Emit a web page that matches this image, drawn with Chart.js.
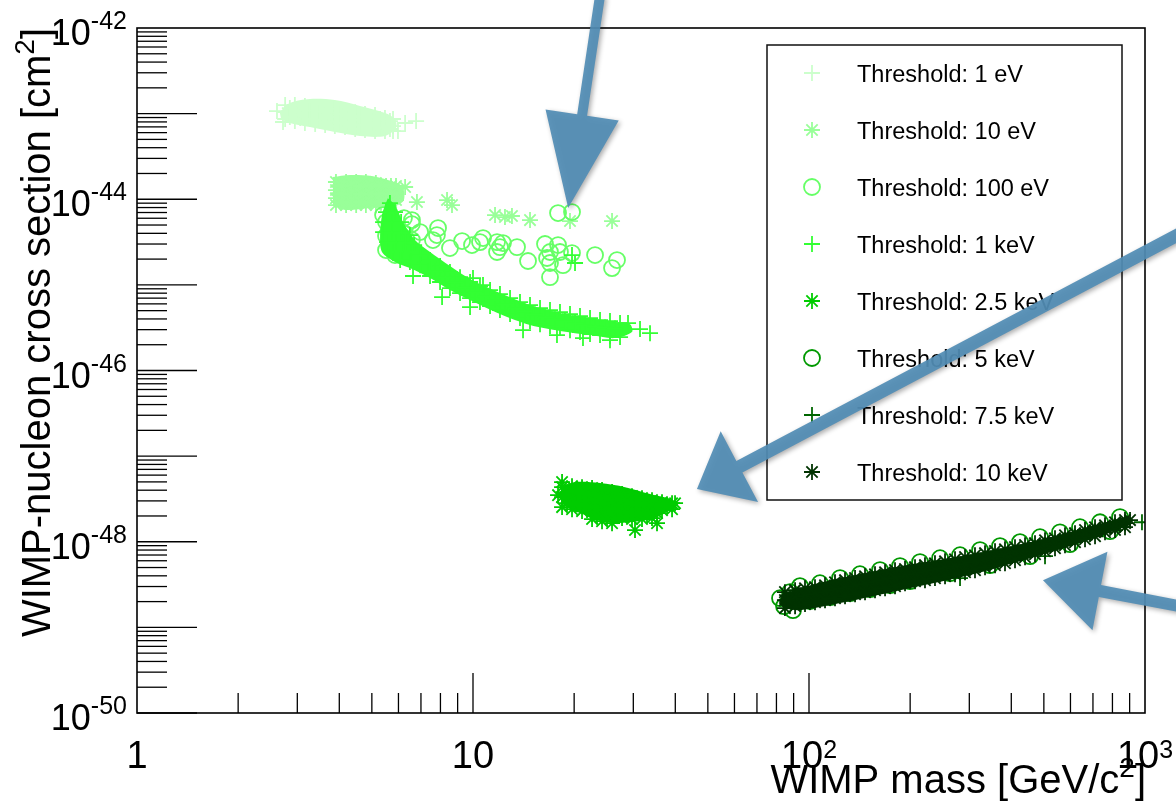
<!DOCTYPE html>
<html>
<head>
<meta charset="utf-8">
<title>WIMP-nucleon cross section vs WIMP mass</title>
<script src="https://cdn.jsdelivr.net/npm/chart.js@4.4.1/dist/chart.umd.min.js"></script>
<style>
  html, body { margin: 0; padding: 0; background: #fff; }
  canvas { display: block; }
</style>
</head>
<body>
<canvas id="chart" width="1176" height="805"></canvas>
<script>
// Threshold series, mass in GeV/c^2 and cross section in cm^2
const thresholds = [
    'Threshold: 1 eV', 'Threshold: 10 eV', 'Threshold: 100 eV', 'Threshold: 1 keV',
    'Threshold: 2.5 keV', 'Threshold: 5 keV', 'Threshold: 7.5 keV', 'Threshold: 10 keV'
];

const mass1eV = [
    2.76, 2.76, 2.76, 2.95, 2.95, 2.95, 3.16, 3.16, 3.16, 3.39, 3.39, 3.39,
    3.63, 3.63, 3.63, 3.88, 3.88, 3.88, 4.16, 4.16, 4.16, 4.46, 4.46, 4.46,
    4.77, 4.77, 4.77, 5.11, 5.11, 5.11, 5.47, 5.47, 5.47, 5.78, 5.78, 5.78,
    2.85, 2.85, 3.06, 3.06, 3.27, 3.27, 3.50, 3.50, 3.75, 3.75, 4.02, 4.02,
    4.31, 4.31, 4.61, 4.61, 4.94, 4.94, 5.29, 5.29, 5.66, 5.66,
    2.61, 2.72, 6.28, 6.77, 5.98
];
const xsec1eV = [
    1.26e-43, 1.04e-43, 8.65e-44, 1.26e-43, 1.02e-43, 8.19e-44, 1.23e-43, 9.89e-44, 7.77e-44, 1.19e-43, 9.63e-44, 7.56e-44,
    1.16e-43, 9.38e-44, 7.36e-44, 1.13e-43, 9.13e-44, 7.16e-44, 1.07e-43, 8.65e-44, 6.97e-44, 1.04e-43, 8.42e-44, 6.61e-44,
    9.89e-44, 7.98e-44, 6.43e-44, 9.63e-44, 7.77e-44, 6.26e-44, 8.88e-44, 7.36e-44, 6.26e-44, 8.65e-44, 7.16e-44, 6.26e-44,
    1.16e-43, 9.13e-44, 1.10e-43, 8.88e-44, 1.07e-43, 8.65e-44, 1.04e-43, 8.42e-44, 1.02e-43, 8.19e-44, 9.89e-44, 7.77e-44,
    9.38e-44, 7.56e-44, 9.13e-44, 7.36e-44, 8.88e-44, 6.97e-44, 8.65e-44, 6.79e-44, 8.19e-44, 6.61e-44,
    1.07e-43, 7.98e-44, 7.77e-44, 8.19e-44, 6.26e-44
];

const mass10eV = [
    3.91, 3.91, 3.91, 3.91, 4.19, 4.19, 4.19, 4.19, 4.49, 4.49, 4.49, 4.49,
    4.80, 4.80, 4.80, 4.80, 5.14, 5.14, 5.14, 5.14, 5.51, 5.51, 5.51, 5.90, 5.90, 5.90,
    4.05, 4.05, 4.05, 4.34, 4.34, 4.34, 4.64, 4.64, 4.64, 4.97, 4.97, 4.97,
    5.32, 5.32, 5.32, 5.70, 5.70, 5.70,
    6.28, 6.81, 8.37, 8.66, 11.63, 12.45, 13.06, 14.78, 19.44, 25.93
];
const xsec10eV = [
    1.59e-44, 1.28e-44, 1.03e-44, 8.55e-45, 1.59e-44, 1.28e-44, 1.03e-44, 8.55e-45, 1.59e-44, 1.28e-44, 1.03e-44, 8.55e-45,
    1.59e-44, 1.28e-44, 1.03e-44, 8.55e-45, 1.55e-44, 1.28e-44, 1.03e-44, 8.55e-45, 1.43e-44, 1.18e-44, 9.79e-45, 1.43e-44, 1.18e-44, 9.79e-45,
    1.43e-44, 1.15e-44, 9.27e-45, 1.43e-44, 1.15e-44, 9.27e-45, 1.43e-44, 1.15e-44, 9.27e-45, 1.43e-44, 1.15e-44, 9.27e-45,
    1.43e-44, 1.15e-44, 9.27e-45, 1.43e-44, 1.15e-44, 9.27e-45,
    1.39e-44, 9.27e-45, 9.79e-45, 8.55e-45, 6.54e-45, 6.20e-45, 6.37e-45, 5.71e-45, 5.56e-45, 5.56e-45
];

const mass100eV = [
    5.40, 5.51, 5.51, 5.51, 5.86, 5.86, 5.86, 6.23, 6.23, 6.23, 6.58, 6.58, 6.58, 6.96,
    7.87, 7.81, 7.60, 8.54, 9.28, 9.93, 10.49, 10.71, 11.79, 12.03, 11.79, 12.28, 13.52, 14.58,
    16.38, 16.61, 16.95, 17.91, 18.15, 17.91, 19.71, 16.95, 16.95, 18.53, 19.71, 23.08, 26.83, 25.93
];
const xsec100eV = [
    6.54e-45, 5.42e-45, 3.72e-45, 2.55e-45, 4.61e-45, 3.08e-45, 2.23e-45, 6.03e-45, 4.03e-45, 2.69e-45, 5.13e-45, 3.34e-45, 5.71e-45, 4.14e-45,
    4.61e-45, 3.82e-45, 3.34e-45, 2.69e-45, 3.25e-45, 2.92e-45, 3.16e-45, 3.52e-45, 3.16e-45, 2.76e-45, 2.42e-45, 3.08e-45, 2.76e-45, 1.90e-45,
    3.00e-45, 2.06e-45, 2.42e-45, 2.92e-45, 2.42e-45, 6.90e-45, 7.09e-45, 1.80e-45, 1.23e-45, 1.70e-45, 2.35e-45, 2.23e-45, 1.95e-45, 1.57e-45
];

const mass1keV = [
    5.66, 5.51, 5.86, 5.40, 5.74, 6.11, 5.40, 5.74, 6.11, 6.49, 5.55, 5.90, 6.28, 6.68,
    5.78, 6.15, 6.54, 6.96, 6.07, 6.49, 6.96, 7.35,
    7.45, 7.45, 7.98, 7.98, 8.54, 8.54, 9.15, 9.15, 9.80, 9.80, 10.49, 10.49, 11.24, 11.24,
    12.03, 12.03, 12.89, 12.89, 13.80, 13.80, 14.78, 14.78, 15.83, 15.83, 16.95, 16.95,
    18.15, 18.15, 19.44, 19.44, 20.82, 20.82, 22.30, 22.30, 23.88, 23.88, 25.57, 25.57, 27.39, 27.39,
    7.71, 8.25, 8.84, 9.47, 10.14, 10.86, 11.63, 12.45, 13.34, 14.28, 15.29, 16.38,
    17.54, 18.78, 20.12, 21.54, 23.08, 24.71, 26.46,
    6.63, 8.09, 10.0, 10.71, 9.80, 14.09, 17.78, 21.25, 25.57, 28.93, 31.41, 33.64, 19.71, 20.12
];
const xsec1keV = [
    9.03e-45, 7.09e-45, 7.09e-45, 5.42e-45, 5.42e-45, 5.42e-45, 4.14e-45, 4.14e-45, 4.14e-45, 3.82e-45, 3.16e-45, 3.16e-45, 3.16e-45, 2.92e-45,
    2.42e-45, 2.42e-45, 2.42e-45, 2.23e-45, 1.95e-45, 1.85e-45, 1.70e-45, 1.85e-45,
    1.95e-45, 1.27e-45, 1.66e-45, 1.08e-45, 1.41e-45, 9.18e-46, 1.23e-45, 8.02e-46, 1.08e-45, 7.01e-46, 9.68e-46, 6.30e-46, 8.70e-46, 5.65e-46,
    7.81e-46, 5.08e-46, 7.01e-46, 4.56e-46, 6.30e-46, 4.09e-46, 5.81e-46, 3.78e-46, 5.36e-46, 3.48e-46, 5.08e-46, 3.30e-46,
    4.81e-46, 3.13e-46, 4.56e-46, 2.96e-46, 4.32e-46, 2.81e-46, 4.09e-46, 2.66e-46, 3.88e-46, 2.59e-46, 3.78e-46, 2.52e-46, 3.58e-46, 2.46e-46,
    1.45e-45, 1.23e-45, 1.07e-45, 9.30e-46, 8.24e-46, 7.40e-46, 6.64e-46, 5.97e-46, 5.36e-46, 4.90e-46, 4.50e-46, 4.20e-46,
    3.98e-46, 3.78e-46, 3.58e-46, 3.39e-46, 3.25e-46, 3.17e-46, 3.09e-46,
    1.27e-45, 7.20e-46, 1.20e-45, 9.95e-46, 5.50e-46, 2.96e-46, 2.59e-46, 2.39e-46, 2.26e-46, 3.58e-46, 3.05e-46, 2.73e-46, 2.23e-45, 1.80e-45
];

const mass2p5keV = [
    18.41, 18.41, 18.41, 19.71, 19.71, 19.71, 21.11, 21.11, 21.11,
    22.61, 22.61, 22.61, 22.61, 24.21, 24.21, 24.21, 24.21, 25.93, 25.93, 25.93, 25.93,
    27.77, 27.77, 27.77, 29.73, 29.73, 29.73, 31.84, 31.84, 31.84, 34.10, 34.10, 34.10,
    36.52, 36.52, 39.12, 39.12,
    19.05, 19.05, 20.40, 20.40, 21.84, 21.84, 23.39, 23.39, 23.39, 25.05, 25.05, 25.05,
    26.83, 26.83, 28.73, 28.73, 30.77, 30.77, 32.95, 32.95, 35.29, 35.29, 37.80,
    18.41, 17.91, 39.93, 30.35, 35.29
];
const xsec2p5keV = [
    4.34e-48, 3.32e-48, 2.54e-48, 4.46e-48, 3.32e-48, 2.40e-48, 4.34e-48, 3.15e-48, 2.28e-48,
    4.23e-48, 3.06e-48, 2.22e-48, 1.84e-48, 4.01e-48, 2.90e-48, 2.10e-48, 1.74e-48, 3.80e-48, 2.75e-48, 1.99e-48, 1.65e-48,
    3.60e-48, 2.61e-48, 1.89e-48, 3.41e-48, 2.47e-48, 1.84e-48, 3.23e-48, 2.40e-48, 1.84e-48, 3.06e-48, 2.34e-48, 1.89e-48,
    2.90e-48, 2.34e-48, 2.82e-48, 2.40e-48,
    3.80e-48, 2.82e-48, 3.80e-48, 2.75e-48, 3.60e-48, 2.61e-48, 3.50e-48, 2.54e-48, 1.99e-48, 3.32e-48, 2.40e-48, 1.89e-48,
    3.15e-48, 2.28e-48, 2.98e-48, 2.16e-48, 2.90e-48, 2.16e-48, 2.75e-48, 2.10e-48, 2.68e-48, 2.16e-48, 2.61e-48,
    4.97e-48, 3.50e-48, 2.82e-48, 1.37e-48, 1.65e-48
];

const mass5keV = [
    82.0, 84.3, 87.8, 89.6, 94.0,
    94.0, 107.8, 123.7, 141.8, 162.7, 186.6, 214.0, 245.5, 281.5, 322.9, 370.3, 424.6, 487.0, 558.5, 640.5, 734.8, 842.6,
    100.7, 115.5, 132.4, 151.9, 174.2, 199.8, 262.8, 345.7, 454.8, 598.0, 786.8
];
const xsec5keV = [
    2.19e-49, 1.77e-49, 2.58e-49, 1.59e-49, 2.08e-49,
    3.03e-49, 3.28e-49, 3.76e-49, 4.18e-49, 4.66e-49, 5.19e-49, 5.78e-49, 6.43e-49, 6.97e-49, 7.98e-49, 8.88e-49, 9.89e-49, 1.13e-48, 1.29e-48, 1.48e-48, 1.69e-48, 1.94e-48,
    2.03e-49, 2.25e-49, 2.51e-49, 2.79e-49, 3.11e-49, 3.46e-49, 4.30e-49, 5.33e-49, 6.79e-49, 9.38e-49, 1.33e-48
];

const mass7p5keV = [
    979.5, 87.8, 107.8, 132.4, 162.7, 199.8, 245.5, 301.3, 370.3, 454.8, 558.5, 686.0, 842.6, 504.0, 281.5
];
const xsec7p5keV = [
    1.69e-48, 2.14e-49, 2.44e-49, 2.95e-49, 3.46e-49, 4.07e-49, 4.66e-49, 5.54e-49, 6.61e-49, 7.98e-49, 1.00e-48, 1.26e-48, 1.58e-48, 6.79e-49, 3.76e-49
];

const mass10keV = [
    84.8, 84.8, 84.8, 90.9, 90.9, 90.9, 97.3, 97.3, 97.3, 104.2, 104.2, 104.2,
    111.6, 111.6, 111.6, 119.5, 119.5, 119.5, 128.0, 128.0, 128.0, 137.1, 137.1, 137.1,
    146.8, 146.8, 146.8, 157.2, 157.2, 157.2, 168.4, 168.4, 168.4, 180.3, 180.3, 180.3,
    193.1, 193.1, 193.1, 206.8, 206.8, 206.8, 221.4, 221.4, 221.4, 237.1, 237.1, 237.1,
    254.0, 254.0, 254.0, 272.0, 272.0, 272.0, 291.3, 291.3, 291.3, 311.9, 311.9, 311.9,
    334.1, 334.1, 334.1, 357.8, 357.8, 357.8, 383.1, 383.1, 383.1, 410.3, 410.3, 410.3,
    439.5, 439.5, 439.5, 470.6, 470.6, 470.6, 504.0, 504.0, 504.0, 539.7, 539.7, 539.7,
    578.0, 578.0, 578.0, 619.0, 619.0, 619.0, 662.9, 662.9, 662.9, 710.0, 710.0, 710.0,
    760.3, 760.3, 760.3, 814.2, 814.2, 814.2, 871.9, 871.9, 871.9,
    902.5, 86.5
];
const xsec10keV = [
    2.58e-49, 2.08e-49, 1.68e-49, 2.72e-49, 2.19e-49, 1.77e-49, 2.87e-49, 2.31e-49, 1.87e-49, 2.95e-49, 2.44e-49, 1.97e-49,
    3.11e-49, 2.58e-49, 2.08e-49, 3.37e-49, 2.72e-49, 2.19e-49, 3.56e-49, 2.87e-49, 2.31e-49, 3.76e-49, 3.03e-49, 2.44e-49,
    3.96e-49, 3.20e-49, 2.58e-49, 4.18e-49, 3.37e-49, 2.72e-49, 4.41e-49, 3.56e-49, 2.87e-49, 4.66e-49, 3.76e-49, 3.03e-49,
    4.79e-49, 3.96e-49, 3.28e-49, 5.05e-49, 4.18e-49, 3.46e-49, 5.33e-49, 4.41e-49, 3.56e-49, 5.62e-49, 4.66e-49, 3.76e-49,
    5.93e-49, 4.92e-49, 3.96e-49, 6.26e-49, 5.19e-49, 4.18e-49, 6.61e-49, 5.47e-49, 4.41e-49, 6.97e-49, 5.78e-49, 4.66e-49,
    7.36e-49, 6.10e-49, 5.05e-49, 7.77e-49, 6.43e-49, 5.33e-49, 8.19e-49, 6.79e-49, 5.62e-49, 8.65e-49, 7.36e-49, 6.10e-49,
    9.13e-49, 7.77e-49, 6.61e-49, 9.63e-49, 8.42e-49, 7.16e-49, 1.04e-48, 9.13e-49, 7.77e-49, 1.10e-48, 9.63e-49, 8.42e-49,
    1.19e-48, 1.04e-48, 9.13e-49, 1.26e-48, 1.13e-48, 9.89e-49, 1.37e-48, 1.23e-48, 1.07e-48, 1.48e-48, 1.33e-48, 1.16e-48,
    1.56e-48, 1.44e-48, 1.29e-48, 1.69e-48, 1.52e-48, 1.37e-48, 1.79e-48, 1.65e-48, 1.48e-48,
    1.79e-48, 2.08e-49
];

// Outlines of the regions where the scan points pile up into solid colour
const coreMass1eV = [2.66, 2.85, 3.27, 3.88, 4.61, 5.47, 5.86, 5.90, 5.47, 4.61, 3.88, 3.27, 2.85, 2.68];
const coreXsec1eV = [1.04e-43, 1.33e-43, 1.48e-43, 1.44e-43, 1.23e-43, 1.02e-43, 8.65e-44, 6.79e-44, 5.47e-44, 5.47e-44, 6.10e-44, 6.97e-44, 7.77e-44, 8.88e-44];

const coreMass10eV = [3.83, 4.31, 5.00, 5.58, 6.15, 6.23, 5.86, 4.94, 4.16, 3.83];
const coreXsec10eV = [1.82e-44, 1.92e-44, 1.87e-44, 1.68e-44, 1.43e-44, 9.79e-45, 8.33e-45, 7.89e-45, 7.50e-45, 8.55e-45];

const coreMass1keV = [
    5.58, 5.86, 6.19, 6.72, 7.45, 8.54, 9.80, 12.03, 14.78, 18.15, 22.30, 26.46, 29.33,
    29.73, 26.46, 22.30, 18.15, 14.78, 12.03, 9.80, 8.54, 7.45, 6.49, 5.86, 5.36, 5.29, 5.36, 5.47
];
const coreXsec1keV = [
    1.03e-44, 8.55e-45, 5.42e-45, 3.34e-45, 2.42e-45, 1.66e-45, 1.17e-45, 8.02e-46, 5.81e-46, 4.68e-46, 4.09e-46, 3.68e-46, 3.48e-46,
    2.81e-46, 2.39e-46, 2.59e-46, 2.89e-46, 3.39e-46, 4.56e-46, 6.64e-46, 8.70e-46, 1.20e-45, 1.57e-45, 1.85e-45, 2.42e-45, 3.82e-45, 6.54e-45, 8.55e-45
];

const coreMass2p5keV = [18.41, 20.12, 23.88, 28.35, 33.64, 39.12, 39.38, 34.81, 29.33, 24.71, 21.54, 18.78, 18.03];
const coreXsec2p5keV = [4.34e-48, 4.97e-48, 4.84e-48, 4.34e-48, 3.60e-48, 3.06e-48, 2.54e-48, 1.89e-48, 1.69e-48, 1.69e-48, 2.05e-48, 2.61e-48, 3.41e-48];

const coreMass10keV = [83.7, 94.0, 123.7, 186.6, 307.7, 454.8, 610.6, 786.8, 890.2, 902.5, 786.8, 610.6, 454.8, 307.7, 186.6, 123.7, 94.0, 84.8, 81.4];
const coreXsec10keV = [2.44e-49, 2.87e-49, 3.76e-49, 5.19e-49, 7.16e-49, 9.89e-49, 1.33e-48, 1.74e-48, 1.94e-48, 1.61e-48, 1.29e-48, 9.13e-49, 6.43e-49, 4.18e-49, 2.72e-49, 1.92e-49, 1.59e-49, 1.68e-49, 2.02e-49];

// Axis labels: [base, exponent]
const xTickValues = [1, 10, 100, 1000];
const xTickLabels = [['1', ''], ['10', ''], ['10', '2'], ['10', '3']];
const yTickValues = [1e-50, 1e-48, 1e-46, 1e-44, 1e-42];
const yTickLabels = [['10', '-50'], ['10', '-48'], ['10', '-46'], ['10', '-44'], ['10', '-42']];

const FONT = "'Liberation Sans', Arial, Helvetica, sans-serif";

const seriesMass = [mass1eV, mass10eV, mass100eV, mass1keV, mass2p5keV, mass5keV, mass7p5keV, mass10keV];
const seriesXsec = [xsec1eV, xsec10eV, xsec100eV, xsec1keV, xsec2p5keV, xsec5keV, xsec7p5keV, xsec10keV];
const colors = ['#ccffcc', '#99ff99', '#66ff66', '#33ff33', '#00cc00', '#009900', '#006600', '#003300'];
const markers = ['cross', 'star', 'circle', 'cross', 'star', 'circle', 'cross', 'star'];

// series index -> [mass, xsec] outline of its dense core
const cores = [
    [0, coreMass1eV, coreXsec1eV],
    [1, coreMass10eV, coreXsec10eV],
    [3, coreMass1keV, coreXsec1keV],
    [4, coreMass2p5keV, coreXsec2p5keV],
    [7, coreMass10keV, coreXsec10keV]
];

const toPoints = (ms, xs) => ms.map((m, j) => ({ x: m, y: xs[j] }));

const datasets = thresholds.map((label, i) => ({
    label: label,
    data: toPoints(seriesMass[i], seriesXsec[i]),
    pointStyle: markers[i],
    pointRadius: 8,
    pointBorderWidth: 1.8,
    borderColor: colors[i],
    backgroundColor: 'rgba(0,0,0,0)',
    pointBackgroundColor: 'rgba(0,0,0,0)',
    showLine: false,
    order: thresholds.length - 1 - i   // later thresholds drawn on top
}));

cores.forEach(([i, ms, xs]) => {
    datasets.push({
        label: thresholds[i] + ' core',
        data: toPoints(ms, xs),
        showLine: true,
        fill: 'shape',
        borderWidth: 0,
        borderColor: 'rgba(0,0,0,0)',
        backgroundColor: colors[i],
        pointRadius: 0,
        tension: 0.3,
        order: thresholds.length - 1 - i + 0.5
    });
});

// Text helper: base with a raised exponent
function powerText(ctx, base, exp, x, baseline, align, size, supSize, rise) {
    ctx.font = size + 'px ' + FONT;
    const wb = ctx.measureText(base).width;
    ctx.font = supSize + 'px ' + FONT;
    const we = exp ? ctx.measureText(exp).width : 0;
    const total = wb + we;
    let left = x;
    if (align === 'right') left = x - total;
    if (align === 'center') left = x - total / 2;
    ctx.textAlign = 'left';
    ctx.textBaseline = 'alphabetic';
    ctx.font = size + 'px ' + FONT;
    ctx.fillText(base, left, baseline);
    if (exp) {
        ctx.font = supSize + 'px ' + FONT;
        ctx.fillText(exp, left + wb, baseline - rise);
    }
}

// Title text with a superscript before the closing bracket
function titleText(ctx, head, sup, tail, xRight, baseline, size, supSize, rise) {
    ctx.font = size + 'px ' + FONT;
    const wh = ctx.measureText(head).width;
    const wt = ctx.measureText(tail).width;
    ctx.font = supSize + 'px ' + FONT;
    const ws = ctx.measureText(sup).width;
    let left = xRight - (wh + ws + wt);
    ctx.textAlign = 'left';
    ctx.textBaseline = 'alphabetic';
    ctx.font = size + 'px ' + FONT;
    ctx.fillText(head, left, baseline);
    ctx.font = supSize + 'px ' + FONT;
    ctx.fillText(sup, left + wh, baseline - rise);
    ctx.font = size + 'px ' + FONT;
    ctx.fillText(tail, left + wh + ws, baseline);
}

function line(ctx, x1, y1, x2, y2) {
    ctx.beginPath();
    ctx.moveTo(x1, y1);
    ctx.lineTo(x2, y2);
    ctx.stroke();
}

// Frame, inside ticks, tick labels and axis titles
const axesPlugin = {
    id: 'rootAxes',
    afterDatasetsDraw(chart) {
        const { ctx, chartArea: a, scales: { x, y } } = chart;
        ctx.save();
        ctx.strokeStyle = '#000';
        ctx.fillStyle = '#000';

        ctx.lineWidth = 1.3;
        for (let e = -50; e < -42; e++) {
            for (let k = 1; k < 10; k++) {
                const py = y.getPixelForValue(k * Math.pow(10, e));
                line(ctx, a.left, py, a.left + (k === 1 ? 60 : 30), py);
            }
        }
        for (let e = 0; e < 3; e++) {
            for (let k = 1; k < 10; k++) {
                if (e === 0 && k === 1) continue;
                const px = x.getPixelForValue(k * Math.pow(10, e));
                line(ctx, px, a.bottom, px, a.bottom - (k === 1 ? 40 : 20));
            }
        }

        ctx.lineWidth = 1.6;
        ctx.strokeRect(a.left, a.top, a.right - a.left, a.bottom - a.top);

        yTickValues.forEach((v, i) => {
            const py = y.getPixelForValue(v);
            powerText(ctx, yTickLabels[i][0], yTickLabels[i][1], 127, py + 17, 'right', 36, 25, 16);
        });
        xTickValues.forEach((v, i) => {
            const px = x.getPixelForValue(v);
            powerText(ctx, xTickLabels[i][0], xTickLabels[i][1], px, 768, 'center', 38, 25, 10);
        });

        titleText(ctx, 'WIMP mass [GeV/c', '2', ']', a.right + 1, 793, 40, 28, 16);

        ctx.save();
        ctx.translate(50, a.top);
        ctx.rotate(-Math.PI / 2);
        titleText(ctx, 'WIMP-nucleon cross section [cm', '2', ']', 0, 0, 40, 28, 16);
        ctx.restore();

        ctx.restore();
    }
};

function marker(ctx, style, radius, px, py) {
    if (Chart.helpers && Chart.helpers.drawPoint) {
        Chart.helpers.drawPoint(ctx, { pointStyle: style, radius: radius, rotation: 0, borderWidth: ctx.lineWidth }, px, py);
        return;
    }
    ctx.beginPath();
    if (style === 'circle') {
        ctx.arc(px, py, radius, 0, Math.PI * 2);
    } else {
        ctx.moveTo(px - radius, py); ctx.lineTo(px + radius, py);
        ctx.moveTo(px, py - radius); ctx.lineTo(px, py + radius);
        if (style === 'star') {
            const d = radius * Math.SQRT1_2;
            ctx.moveTo(px - d, py - d); ctx.lineTo(px + d, py + d);
            ctx.moveTo(px - d, py + d); ctx.lineTo(px + d, py - d);
        }
    }
    ctx.stroke();
}

// Boxed legend in the upper right of the frame
const legendPlugin = {
    id: 'boxLegend',
    afterDraw(chart) {
        const ctx = chart.ctx;
        ctx.save();
        ctx.fillStyle = '#fff';
        ctx.fillRect(767, 45, 355, 455);
        ctx.strokeStyle = '#111';
        ctx.lineWidth = 1.5;
        ctx.strokeRect(767, 45, 355, 455);
        thresholds.forEach((label, i) => {
            const ry = 73 + i * 57;
            ctx.strokeStyle = colors[i];
            ctx.fillStyle = '#fff';
            ctx.lineWidth = 1.8;
            marker(ctx, markers[i], 8, 812, ry);
            ctx.fillStyle = '#000';
            ctx.font = '23.5px ' + FONT;
            ctx.textAlign = 'left';
            ctx.textBaseline = 'alphabetic';
            ctx.fillText(label, 857, ry + 9);
        });
        ctx.restore();
    }
};

// Pointer arrows, anchored in (mass, cross section) coordinates
const arrows = [
    { from: [23.9, 2.43e-42], to: [19.2, 7.9e-45], shaft: 10, head: 94, halfWidth: 37 },
    { from: [1315, 4.25e-45], to: [46.4, 4.12e-48], shaft: 13, head: 48, halfWidth: 40 },
    { from: [1315, 1.72e-49], to: [497, 3.56e-49], shaft: 12, head: 58, halfWidth: 40 }
];

const arrowPlugin = {
    id: 'arrows',
    afterDraw(chart) {
        const { ctx, scales: { x, y } } = chart;
        ctx.save();
        ctx.fillStyle = 'rgba(82, 141, 181, 0.93)';
        ctx.shadowColor = 'rgba(0, 0, 0, 0.35)';
        ctx.shadowBlur = 5;
        ctx.shadowOffsetX = 2;
        ctx.shadowOffsetY = 2;
        arrows.forEach(a => {
            const tx = x.getPixelForValue(a.from[0]), ty = y.getPixelForValue(a.from[1]);
            const hx = x.getPixelForValue(a.to[0]), hy = y.getPixelForValue(a.to[1]);
            const len = Math.hypot(tx - hx, ty - hy);
            const ux = (tx - hx) / len, uy = (ty - hy) / len;
            const nx = -uy, ny = ux;
            const bx = hx + ux * a.head, by = hy + uy * a.head;
            const w = a.shaft / 2, hw = a.halfWidth;
            ctx.beginPath();
            ctx.moveTo(tx + nx * w, ty + ny * w);
            ctx.lineTo(bx + nx * w, by + ny * w);
            ctx.lineTo(bx + nx * hw, by + ny * hw);
            ctx.lineTo(hx, hy);
            ctx.lineTo(bx - nx * hw, by - ny * hw);
            ctx.lineTo(bx - nx * w, by - ny * w);
            ctx.lineTo(tx - nx * w, ty - ny * w);
            ctx.closePath();
            ctx.fill();
        });
        ctx.restore();
    }
};

const ctx = document.getElementById('chart').getContext('2d');
new Chart(ctx, {
    type: 'scatter',
    data: { datasets: datasets },
    options: {
        responsive: false,
        devicePixelRatio: 1,
        animation: false,
        events: [],
        layout: { padding: { left: 137, right: 31, top: 28, bottom: 92 } },
        plugins: {
            legend: { display: false },
            tooltip: { enabled: false }
        },
        scales: {
            x: { type: 'logarithmic', min: 1, max: 1000, display: false },
            y: { type: 'logarithmic', min: 1e-50, max: 1e-42, display: false }
        }
    },
    plugins: [axesPlugin, legendPlugin, arrowPlugin]
});
</script>
</body>
</html>
